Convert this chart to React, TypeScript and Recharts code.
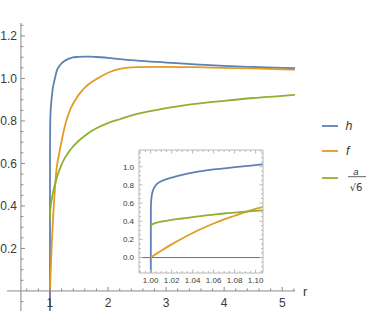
import React from 'react';
import { LineChart, Line, XAxis, YAxis, ReferenceLine, Legend } from 'recharts';

// ---- data ----
const rValues = [
  1.0, 1.0002, 1.001, 1.003, 1.006, 1.01, 1.02, 1.03, 1.04, 1.05, 1.06, 1.07, 1.08, 1.09, 1.1, 1.107,
  1.12, 1.15, 1.2, 1.25, 1.3, 1.35, 1.4, 1.45, 1.5, 1.6, 1.7, 1.8, 2.0, 2.2, 2.5, 3.0, 3.5, 4.0, 4.5, 5.0, 5.22,
];
const hValues = [
  -1.5, 0.55, 0.68, 0.76, 0.81, 0.84, 0.88, 0.91, 0.935, 0.955, 0.97, 0.982, 0.995, 1.006, 1.018, 1.026,
  1.038, 1.054, 1.071, 1.082, 1.09, 1.095, 1.099, 1.101, 1.102, 1.103, 1.103, 1.101, 1.097, 1.091, 1.084, 1.075, 1.066, 1.059, 1.054, 1.05, 1.048,
];
const fValues = [
  0, 0.0015, 0.008, 0.023, 0.046, 0.075, 0.145, 0.21, 0.27, 0.325, 0.375, 0.42, 0.46, 0.5, 0.535, 0.558,
  0.588, 0.635, 0.705, 0.768, 0.817, 0.854, 0.882, 0.905, 0.925, 0.957, 0.98, 0.997, 1.027, 1.045, 1.053, 1.055, 1.053, 1.05, 1.047, 1.043, 1.041,
];
const aValues = [
  0.335, 0.345, 0.36, 0.373, 0.385, 0.395, 0.415, 0.43, 0.445, 0.46, 0.472, 0.485, 0.495, 0.505, 0.515, 0.52,
  0.535, 0.56, 0.595, 0.623, 0.645, 0.664, 0.68, 0.695, 0.708, 0.73, 0.75, 0.766, 0.79, 0.808, 0.833, 0.86, 0.88, 0.895, 0.908, 0.918, 0.923,
];

const series = [
  { key: 'h', color: '#5E81B5' },
  { key: 'f', color: '#E19C24' },
  { key: 'a', color: '#8FB032' },
];

const mainXMajor = [1, 2, 3, 4, 5];
const mainYMajor = [0.2, 0.4, 0.6, 0.8, 1.0, 1.2];
const insetXMajor = [1.0, 1.02, 1.04, 1.06, 1.08, 1.1];
const insetYMajor = [0.0, 0.2, 0.4, 0.6, 0.8, 1.0];

const data = rValues.map((r, i) => ({ r, h: hValues[i], f: fValues[i], a: aValues[i] }));

// ---- layout ----
const W = 374;
const H = 312;
const MAIN_X: [number, number] = [0.26, 5.22];
const MAIN_Y: [number, number] = [-0.0943, 1.261];
const MAIN_M = { top: 23, right: 79, bottom: 0, left: 6 };
const AX = 1; // axis thickness reserved (height of x axis / width of y axis)
const AXIS_R = 0.5;
const plotTop = MAIN_M.top;
const plotLeft = MAIN_M.left + AX;
const plotH = H - MAIN_M.top - MAIN_M.bottom - AX;
const plotW = W - MAIN_M.left - MAIN_M.right - AX;
const zeroY = plotTop + ((MAIN_Y[1] - 0) / (MAIN_Y[1] - MAIN_Y[0])) * plotH;
const axisX = plotLeft + ((AXIS_R - MAIN_X[0]) / (MAIN_X[1] - MAIN_X[0])) * plotW;

const INSET_X: [number, number] = [0.9889, 1.107];
const INSET_Y: [number, number] = [-0.17, 1.184];
const INSET_M = { top: 149, right: 110, bottom: 38, left: 138 };

const FONT = '"Liberation Sans", Arial, sans-serif';
const AXIS = '#8a8a8a';
const TXT = '#3a3a3a';
const FRAME = '#b8b8b8';

const isMajor = (v: number, majors: number[]) => majors.some((m) => Math.abs(m - v) < 1e-6);

function range(a: number, b: number, step: number) {
  const out: number[] = [];
  for (let v = a; v <= b + 1e-9; v += step) out.push(Math.round(v * 10000) / 10000);
  return out;
}

const mainXTicks = Array.from(new Set([...range(0.6, 5.2, 0.2), ...mainXMajor])).sort((p, q) => p - q);
const mainYTicks = range(-0.05, 1.25, 0.05).filter((v) => Math.abs(v) > 1e-6);
const insetXTicks = range(0.99, 1.105, 0.005);
const insetYTicks = range(-0.15, 1.15, 0.05);

const MainXTick = (props: any) => {
  const { x, payload } = props;
  const v = payload.value;
  const major = isMajor(v, mainXMajor);
  return (
    <g>
      <line x1={x} x2={x} y1={zeroY} y2={zeroY - (major ? 4 : 2.5)} stroke={AXIS} strokeWidth={1} />
      {major && (
        <text x={x} y={zeroY + 16} textAnchor="middle" fontSize={12} fontFamily={FONT} fill={TXT}>
          {String(v)}
        </text>
      )}
    </g>
  );
};

const MainYTick = (props: any) => {
  const { y, payload } = props;
  const v = payload.value;
  const major = isMajor(v, mainYMajor);
  return (
    <g>
      <line x1={axisX} x2={axisX + (major ? 4 : 2.5)} y1={y} y2={y} stroke={AXIS} strokeWidth={1} />
      {major && (
        <text x={axisX - 4} y={y + 4.2} textAnchor="end" fontSize={12} fontFamily={FONT} fill={TXT}>
          {v.toFixed(1)}
        </text>
      )}
    </g>
  );
};

const makeInsetTick = (side: 'bottom' | 'top' | 'left' | 'right') => (props: any) => {
  const { x, y, payload } = props;
  const v = payload.value;
  const horiz = side === 'bottom' || side === 'top';
  const major = horiz ? isMajor(v, insetXMajor) : isMajor(v, insetYMajor);
  const len = major ? 3.5 : 2;
  let line;
  if (side === 'bottom') line = <line x1={x} x2={x} y1={y} y2={y - len} stroke={FRAME} />;
  else if (side === 'top') line = <line x1={x} x2={x} y1={y} y2={y + len} stroke={FRAME} />;
  else if (side === 'left') line = <line x1={x} x2={x + len} y1={y} y2={y} stroke={FRAME} />;
  else line = <line x1={x} x2={x - len} y1={y} y2={y} stroke={FRAME} />;
  return (
    <g>
      {line}
      {major && side === 'bottom' && (
        <text x={x} y={y + 9.8} textAnchor="middle" fontSize={8} fontFamily={FONT} fill={TXT}>
          {v.toFixed(2)}
        </text>
      )}
      {major && side === 'left' && (
        <text x={x - 5} y={y + 2.9} textAnchor="end" fontSize={8} fontFamily={FONT} fill={TXT}>
          {v.toFixed(1)}
        </text>
      )}
    </g>
  );
};

const LegendBox = () => (
  <svg width={56} height={88} style={{ display: 'block', overflow: 'visible' }}>
    {series.map((s, i) => {
      const yy = [16, 41, 68][i];
      return <line key={s.key} x1={4} x2={20} y1={yy} y2={yy} stroke={s.color} strokeWidth={1.8} />;
    })}
    <text x={27.5} y={20.3} fontSize={12.5} fontStyle="italic" fontFamily={FONT} fill={TXT}>h</text>
    <text x={28} y={45.3} fontSize={12.5} fontStyle="italic" fontFamily={FONT} fill={TXT}>f</text>
    <text x={38} y={64.5} textAnchor="middle" fontSize={9.5} fontStyle="italic" fontFamily={FONT} fill={TXT}>a</text>
    <line x1={30} x2={48} y1={66.7} y2={66.7} stroke={TXT} strokeWidth={0.8} />
    <text x={38} y={80.5} textAnchor="middle" fontSize={10} fontFamily='"DejaVu Sans", sans-serif' fill={TXT}>√6</text>
  </svg>
);

export default function App() {
  return (
    <div style={{ position: 'absolute', left: 0, top: 0, width: W, height: H, background: '#fff', overflow: 'hidden' }}>
      <div style={{ position: 'absolute', left: 0, top: 0 }}>
        <LineChart width={W} height={H} data={data} margin={MAIN_M}>
          <XAxis
            dataKey="r"
            type="number"
            domain={MAIN_X}
            allowDataOverflow
            height={AX}
            ticks={mainXTicks}
            interval={0}
            tickSize={0}
            tickMargin={0}
            axisLine={false}
            tickLine={false}
            tick={MainXTick}
          />
          <YAxis
            type="number"
            domain={MAIN_Y}
            allowDataOverflow
            width={AX}
            ticks={mainYTicks}
            interval={0}
            tickSize={0}
            tickMargin={0}
            axisLine={false}
            tickLine={false}
            tick={MainYTick}
          />
          <ReferenceLine
            y={0}
            stroke={AXIS}
            strokeWidth={1}
            label={{ value: 'r', position: 'right', offset: 8, fontSize: 13, fill: TXT, fontFamily: FONT }}
          />
          <ReferenceLine x={AXIS_R} stroke={AXIS} strokeWidth={1} />
          {series.map((s) => (
            <Line
              key={s.key}
              type="monotone"
              dataKey={s.key}
              stroke={s.color}
              strokeWidth={1.8}
              dot={false}
              activeDot={false}
              isAnimationActive={false}
            />
          ))}
          <Legend
            layout="vertical"
            align="center"
            verticalAlign="middle"
            content={LegendBox}
            wrapperStyle={{ position: 'absolute', left: 318, top: 110, width: 56, height: 88 }}
          />
        </LineChart>
      </div>
      <div style={{ position: 'absolute', left: 0, top: 0 }}>
        <LineChart width={W} height={H} data={data} margin={INSET_M}>
          <XAxis
            dataKey="r"
            type="number"
            domain={INSET_X}
            allowDataOverflow
            height={AX}
            ticks={insetXTicks}
            interval={0}
            tickSize={0}
            tickMargin={0}
            axisLine={{ stroke: FRAME }}
            tickLine={false}
            tick={makeInsetTick('bottom')}
          />
          <XAxis
            xAxisId="top"
            orientation="top"
            dataKey="r"
            type="number"
            domain={INSET_X}
            allowDataOverflow
            height={AX}
            ticks={insetXTicks}
            interval={0}
            tickSize={0}
            tickMargin={0}
            axisLine={{ stroke: FRAME }}
            tickLine={false}
            tick={makeInsetTick('top')}
          />
          <YAxis
            type="number"
            domain={INSET_Y}
            allowDataOverflow
            width={AX}
            ticks={insetYTicks}
            interval={0}
            tickSize={0}
            tickMargin={0}
            axisLine={{ stroke: FRAME }}
            tickLine={false}
            tick={makeInsetTick('left')}
          />
          <YAxis
            yAxisId="right"
            orientation="right"
            type="number"
            domain={INSET_Y}
            allowDataOverflow
            width={AX}
            ticks={insetYTicks}
            interval={0}
            tickSize={0}
            tickMargin={0}
            axisLine={{ stroke: FRAME }}
            tickLine={false}
            tick={makeInsetTick('right')}
          />
          <ReferenceLine y={0} stroke="#707070" strokeWidth={1} />
          {series.map((s) => (
            <Line
              key={s.key}
              type="monotone"
              dataKey={s.key}
              stroke={s.color}
              strokeWidth={1.8}
              dot={false}
              activeDot={false}
              isAnimationActive={false}
            />
          ))}
        </LineChart>
      </div>
    </div>
  );
}
